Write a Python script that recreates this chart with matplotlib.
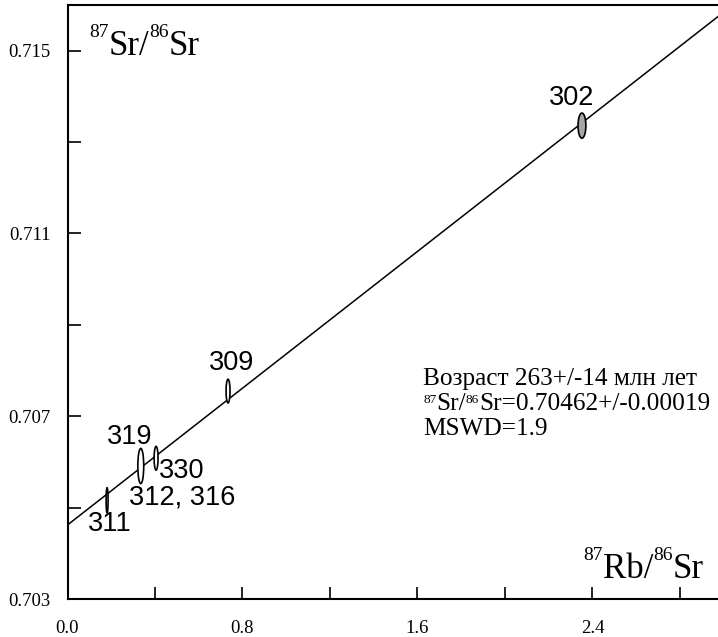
import numpy as np
import matplotlib
matplotlib.use('Agg')
import matplotlib.pyplot as plt
from matplotlib.patches import Ellipse
from matplotlib.transforms import IdentityTransform

plt.rcParams['font.family'] = 'Liberation Serif'

# isochron samples
samples = ['302', '309', '319', '330', '312, 316', '311']
label_of = [0, 1, 2, 3, 2, 4]     # which point each label belongs to
rb_sr = [2.352, 0.734, 0.335, 0.405, 0.181]
sr_sr = [0.71336, 0.70755, 0.70591, 0.70608, 0.70516]
err_x = [0.036, 0.018, 0.027, 0.018, 0.009]
err_y = [0.00055, 0.00052, 0.00077, 0.00052, 0.00055]
fills = ['#a6a6a6', 'white', 'white', 'white', 'white']

# isochron parameters
age = 263          # Ma
intercept = 0.70462
lam = 1.42e-11
slope = np.exp(lam * age * 1e6) - 1

W, H = 718, 637
fig = plt.figure(figsize=(W / 100, H / 100), dpi=100)
ax = fig.add_axes([67.5 / W, 38 / H, 650.5 / W, 594 / H])
ax.set_xlim(0, 2.974)
ax.set_ylim(0.703, 0.716)

xs = np.array([0, 3.2])
ax.plot(xs, intercept + slope * xs, color='black', lw=1.1, zorder=2)

for x, y, w, h, c in zip(rb_sr, sr_sr, err_x, err_y, fills):
    ax.add_patch(Ellipse((x, y), w, h, facecolor=c, edgecolor='black', lw=1.2, zorder=3))

# label offsets in pixels
offsets = [(-10, 28), (3, 28), (-11, 29), (26, -13), (41, -31), (3, -24)]
for name, k, off in zip(samples, label_of, offsets):
    ax.annotate(name, (rb_sr[k], sr_sr[k]), xytext=off, textcoords='offset pixels',
                ha='center', va='center', fontsize=19.5, family='Liberation Sans')

ax.set_xticks([0, 0.8, 1.6, 2.4])
ax.set_xticklabels(['0.0', '0.8', '1.6', '2.4'])
ax.set_xticks([0.4, 1.2, 2.0, 2.8], minor=True)
ax.set_yticks([0.703, 0.707, 0.711, 0.715])
ax.set_yticklabels(['0.703', '0.707', '0.711', '0.715'])
ax.set_yticks([0.705, 0.709, 0.713], minor=True)
ax.tick_params(which='both', direction='in', length=9, width=1.2, labelsize=13.5)
ax.tick_params(axis='x', which='both', pad=15)
ax.tick_params(axis='y', which='both', pad=12)
ax.spines['right'].set_visible(False)
for s in ['left', 'bottom', 'top']:
    ax.spines[s].set_linewidth(1.5)

renderer = fig.canvas.get_renderer()


def rich_text(x, y, parts, ha='left'):
    # parts: (text, fontsize, raise in px); x, y = baseline in image pixels
    texts = []
    for s, size, up in parts:
        t = fig.text(0, 0, s, fontsize=size, va='baseline', ha='left',
                     transform=IdentityTransform())
        texts.append((t, up))
    widths = [t.get_window_extent(renderer).width for t, _ in texts]
    cx = x - sum(widths) if ha == 'right' else x
    for (t, up), w in zip(texts, widths):
        t.set_position((cx, H - y + up))
        cx += w


rich_text(89, 55, [('87', 14, 18), ('Sr/', 25, 0), ('86', 14, 18), ('Sr', 25, 0)])
rich_text(704, 578, [('87', 14, 18), ('Rb/', 25, 0), ('86', 14, 18), ('Sr', 25, 0)],
          ha='right')

rich_text(423, 385, [('Возраст 263+/-14 млн лет', 18.2, 0)])
rich_text(423, 410, [('87', 9.5, 7), ('Sr/', 18.2, 0), ('86', 9.5, 7),
                     ('Sr=0.70462+/-0.00019', 18.2, 0)])
rich_text(423, 435, [('MSWD=1.9', 18.2, 0)])

fig.savefig('out.png', dpi=100)
